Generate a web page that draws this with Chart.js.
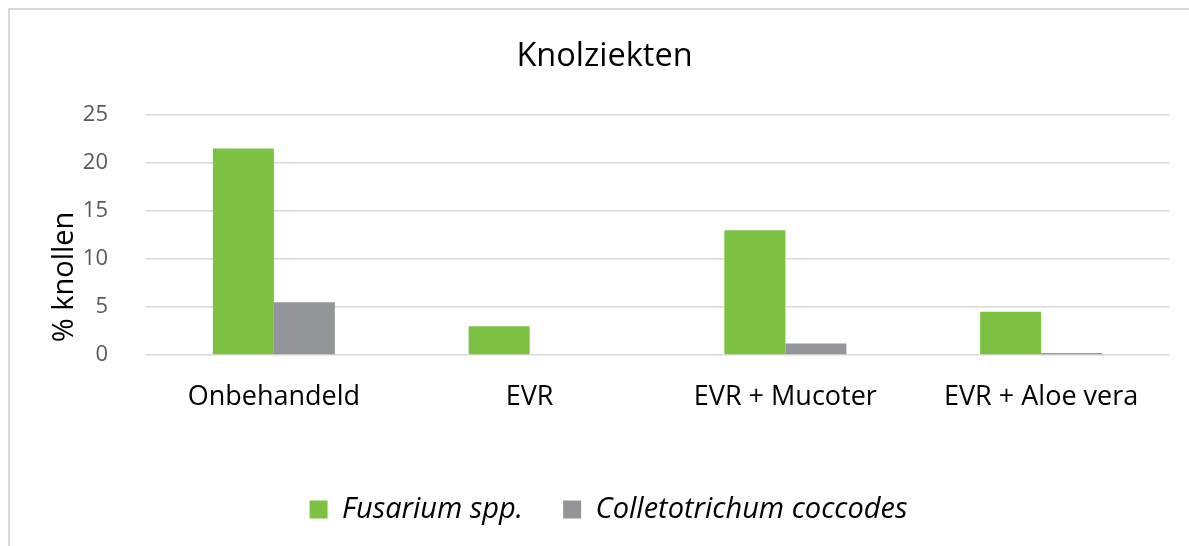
<!DOCTYPE html>
<html>
<head>
<meta charset="utf-8">
<script src="https://cdn.jsdelivr.net/npm/chart.js@4/dist/chart.umd.min.js"></script>
<style>
	html, body { margin: 0; padding: 0; background: #fff; }
	#wrap { position: relative; width: 1189px; height: 546px; overflow: hidden; }
	#rand { position: absolute; left: 8px; top: 8px; width: 1400px; height: 800px;
		border-left: 2px solid #d9d9d9; border-top: 2px solid #d9d9d9; pointer-events: none; }
	canvas { position: absolute; left: 0; top: 0; }
</style>
</head>
<body>
<div id="wrap">
	<canvas id="grafiek" width="1189" height="546"></canvas>
	<div id="rand"></div>
</div>
<script>
// gegevens uit de figuur
let behandelingen = ['Onbehandeld', 'EVR', 'EVR + Mucoter', 'EVR + Aloe vera'];
let fusarium = [21.5, 3, 13, 4.5];
let colletotrichum = [5.5, 0, 1.2, 0.2];
let ticksY = [0, 5, 10, 15, 20, 25];
let asTitel = '% knollen';

let lettertype = "'Open Sans', sans-serif";

// titel van de y-as iets lager dan het midden, zoals in Excel
let asTitelPlugin = {
	id: 'asTitel',
	afterLayout: function(chart){
		// het Excel-kader loopt rechts buiten beeld, dus titel en legenda staan iets naar rechts
		chart.titleBlock.left += 20;
		chart.titleBlock.right += 20;
		chart.legend.left += 24;
		chart.legend.right += 24;
	},
	afterDraw: function(chart){
		let c = chart.ctx;
		let y = chart.scales.y;
		c.save();
		c.translate(65, (y.top + y.bottom) / 2 + 42);
		c.rotate(-Math.PI / 2);
		c.font = '29px ' + lettertype;
		c.fillStyle = '#000';
		c.textAlign = 'center';
		c.textBaseline = 'middle';
		c.fillText(asTitel, 0, 0);
		c.restore();
	}
};

var ctx = document.getElementById('grafiek').getContext('2d');
var grafiek = new Chart(ctx, {
	type: 'bar',
	data: {
		labels: behandelingen,
		datasets: [
			{
				label: 'Fusarium spp.',
				data: fusarium,
				backgroundColor: '#7dc142',
				barPercentage: 1,
				categoryPercentage: 0.477
			},
			{
				label: 'Colletotrichum coccodes',
				data: colletotrichum,
				backgroundColor: '#939598',
				barPercentage: 1,
				categoryPercentage: 0.477
			}
		]
	},
	plugins: [asTitelPlugin],
	options: {
		responsive: false,
		animation: false,
		layout: {
			padding: { left: 0, right: 20, top: 0, bottom: 12 }
		},
		plugins: {
			title: {
				display: true,
				text: 'Knolziekten',
				color: '#000',
				font: { family: lettertype, size: 32.5, weight: 'normal' },
				padding: { top: 37, bottom: 39 }
			},
			legend: {
				position: 'bottom',
				labels: {
					color: '#000',
					font: { family: lettertype, size: 29, style: 'italic' },
					boxWidth: 18,
					boxHeight: 18,
					padding: 40
				}
			},
			tooltip: { enabled: false }
		},
		scales: {
			x: {
				grid: { display: false },
				border: { display: false },
				ticks: {
					color: '#000',
					font: { family: lettertype, size: 27 },
					padding: 18
				},
				afterFit: function(schaal){ schaal.height = 100; }
			},
			y: {
				min: 0,
				max: 25,
				afterBuildTicks: function(schaal){
					schaal.ticks = ticksY.map(function(v){ return { value: v }; });
				},
				grid: { color: '#d9d9d9', lineWidth: 1.5, drawTicks: false },
				border: { display: false },
				ticks: {
					color: '#595959',
					font: { family: lettertype, size: 22 },
					padding: 38
				},
				afterFit: function(schaal){ schaal.width = 146; }
			}
		}
	}
});
</script>
</body>
</html>
